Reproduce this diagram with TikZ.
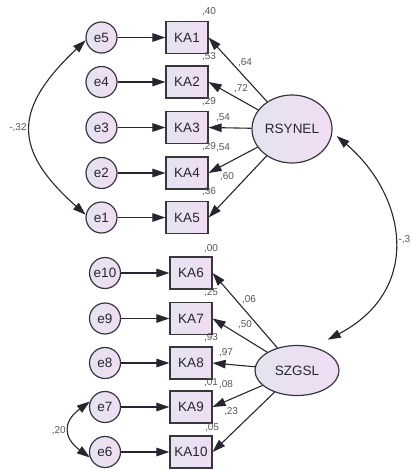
\documentclass[tikz,border=0pt]{standalone}
\usepackage{fontspec}
\setmainfont{Liberation Sans}
\usetikzlibrary{arrows.meta,shapes.geometric}
\definecolor{fillL}{RGB}{228,228,240}
\definecolor{fillR}{RGB}{241,220,243}
\definecolor{edge}{RGB}{55,55,62}
\definecolor{ink}{RGB}{38,38,48}
\definecolor{lbl}{RGB}{85,85,92}
\begin{document}
\begin{tikzpicture}[x=1pt,y=-1pt,
  shaded/.style={draw=edge, line width=1.2pt, left color=fillL, right color=fillR,
    inner sep=0pt, text=ink, font=\fontsize{13.5}{15}\selectfont},
  obs/.style={shaded, rectangle, minimum width=42pt, minimum height=32pt},
  err/.style={shaded, circle, minimum size=31pt},
  lat/.style={shaded, ellipse},
  path/.style={-{Triangle[length=13pt,width=8.5pt]}, line width=1.1pt, draw=ink},
  cov/.style={{Triangle[length=13pt,width=8.5pt]}-{Triangle[length=13pt,width=8.5pt]}, line width=1.1pt, draw=ink},
  val/.style={font=\fontsize{10}{12}\selectfont, text=lbl, inner sep=0pt}
]
\useasboundingbox (0,0) rectangle (411,471);

% first factor: indicators KA1-KA5 with their error terms
\foreach \i/\e/\y in {1/5/37.5, 2/4/82, 3/3/127.5, 4/2/173, 5/1/217.5}{
  \node[obs] (KA\i) at (187,\y) {KA\i};
  \node[err] (e\e) at (101.5,\y) {e\e};
  \draw[path] (e\e) -- (KA\i);
}
\node[lat, minimum width=80pt, minimum height=68pt] (RSYNEL) at (292,129) {RSYNEL};
\foreach \i in {1,...,5}{ \draw[path] (RSYNEL) -- (KA\i.east); }

% second factor: indicators KA6-KA10 with their error terms
\foreach \i/\e/\y in {6/10/273, 7/9/318.5, 8/8/363, 9/7/407, 10/6/452}{
  \node[obs] (KA\i) at (191,\y) {KA\i};
  \node[err] (e\e) at (105,\y) {e\e};
  \draw[path] (e\e) -- (KA\i);
}
\node[lat, minimum width=84pt, minimum height=50pt] (SZGSL) at (297,370.5) {SZGSL};
\foreach \i in {6,...,10}{ \draw[path] (SZGSL) -- (KA\i.east); }

% covariances
\draw[cov] (e5.190) .. controls +(-73,69) and +(-73,-65) .. (e1.170);
\draw[cov] (e7.160) .. controls +(-27,20) and +(-27,-20) .. (e6.200);
\draw[cov] ([shift={(5pt,0pt)}]RSYNEL.-10) .. controls +(70,60) and +(95,-50)
  .. ([shift={(6pt,10pt)}]SZGSL.40);

\node[val] (c1) at (18,128) {-,32};
\node[val, anchor=east] (c2) at (66,431) {,20};
\node[val, anchor=east] (c3) at (410.5,240) {-,3};

% squared multiple correlations
\node[val] (r1) at (209,12) {,40};
\node[val] (r2) at (209,57) {,53};
\node[val] (r3) at (209,102) {,29};
\node[val] (r4) at (209,147) {,29};
\node[val] (r5) at (209,192) {,36};
\node[val] (r6) at (211,249) {,00};
\node[val] (r7) at (211,293) {,25};
\node[val] (r8) at (211,338) {,93};
\node[val] (r9) at (211,383) {,01};
\node[val] (r10) at (212,428) {,05};

% standardized loadings
\node[val] (l1) at (245,63) {,64};
\node[val] (l2) at (241,89) {,72};
\node[val] (l3) at (223,118) {,54};
\node[val] (l4) at (223,148) {,54};
\node[val] (l5) at (227,177) {,60};
\node[val] (l6) at (249,300) {,06};
\node[val] (l7) at (245,325) {,50};
\node[val] (l8) at (226,353) {,97};
\node[val] (l9) at (226,385) {,08};
\node[val] (l10) at (231,412) {,23};
\end{tikzpicture}
\end{document}
